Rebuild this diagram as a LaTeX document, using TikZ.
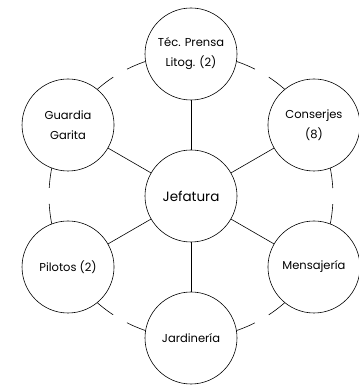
\documentclass[tikz,border=0pt]{standalone}
\usepackage{fontspec}
\setmainfont{Poppins}
\usetikzlibrary{positioning}

\tikzset{
  unit/.style={circle, draw, fill=white, minimum size=92pt, inner sep=0pt,
    align=center, font=\fontsize{11.5}{20}\selectfont},
  boss/.style={unit, font=\fontsize{13.5}{16}\selectfont}
}

\begin{document}
\begin{tikzpicture}[x=1pt, y=1pt, line width=0.6pt]
            \useasboundingbox (0,0) rectangle (358,387);
            \coordinate (mid) at (191,191);

            % Outer ring (gaps between neighbours)
            \draw[dash pattern=on 132.7pt off 16pt, dash phase=140.7pt] (mid) circle (142);

            % Head office
            \node[boss] (jef) at (mid) {Jefatura};

            % Sections around it
            \begin{scope}[shift={(mid)}]
              \node[unit] (tec) at (90:142) {Téc. Prensa\\Litog. (2)};
              \node[unit] (con) at (30:142) {Conserjes\\(8)};
              \node[unit] (men) at (-30:142) {Mensajería};
              \node[unit] (jar) at (-90:142) {Jardinería};
              \node[unit] (pil) at (-150:142) {Pilotos (2)};
              \node[unit] (gua) at (150:142) {Guardia\\Garita};
            \end{scope}

            % Spokes
            \foreach \s in {tec, con, men, jar, pil, gua}
              \draw (jef) -- (\s);
        \end{tikzpicture}
\end{document}
